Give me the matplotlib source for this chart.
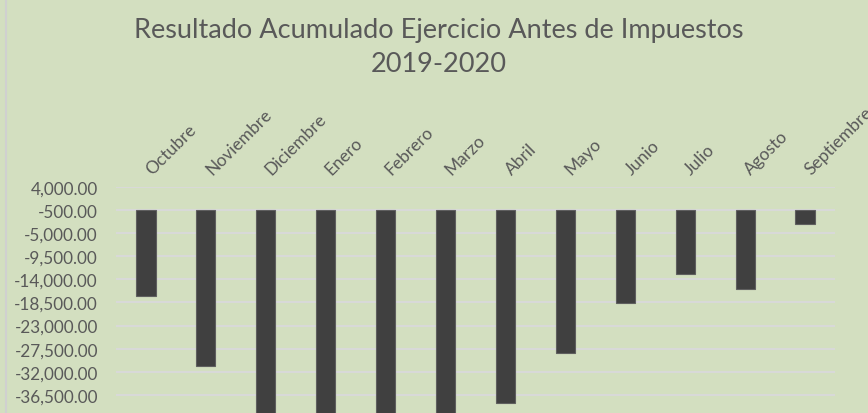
import numpy as np
import matplotlib
matplotlib.use("Agg")
import matplotlib.pyplot as plt
from matplotlib.lines import Line2D
from matplotlib.transforms import ScaledTranslation

# datos
meses = ['Octubre', 'Noviembre', 'Diciembre', 'Enero', 'Febrero', 'Marzo',
         'Abril', 'Mayo', 'Junio', 'Julio', 'Agosto', 'Septiembre']
resultado = [-17300, -30900, -44000, -45000, -46000, -45500,
             -38100, -28300, -18700, -12900, -15900, -3200]
base = -500          # el eje horizontal cruza en -500
y_min, y_max, paso = -45500, 4000, 4500

fondo = '#D3DFC0'
gris_txt = '#595959'
plt.rcParams['font.family'] = ['Lato', 'DejaVu Sans']

fig = plt.figure(figsize=(8.68, 4.14), dpi=100, facecolor=fondo)
ax = fig.add_axes([116 / 868, 1 - 442 / 414, (835 - 116) / 868, (442 - 188) / 414])
ax.set_facecolor(fondo)

x = np.arange(len(meses))
alturas = [v - base for v in resultado]
ax.bar(x, alturas, bottom=base, width=0.32, color='#404040',
       edgecolor='#5f5f5f', linewidth=0.8, zorder=3)

ax.set_xlim(-0.5, len(meses) - 0.5)
ax.set_ylim(y_min, y_max)
ax.set_yticks(np.arange(y_min, y_max + 1, paso))
ax.set_yticklabels(['{:,.2f}'.format(v) for v in np.arange(y_min, y_max + 1, paso)])
ax.grid(axis='y', color='#D9D9D9', linewidth=1.4, zorder=0)

ax.xaxis.tick_top()
ax.set_xticks(x)
ax.set_xticklabels(meses, rotation=45, ha='left', va='baseline',
                   rotation_mode='anchor')
ax.tick_params(axis='x', length=0, pad=9, labelsize=12.5, labelcolor=gris_txt)
ax.tick_params(axis='y', length=0, pad=13, labelsize=12.3, labelcolor=gris_txt)
# pequeño corrimiento a la derecha de las etiquetas de meses
desplazar = ScaledTranslation(6 / 100, 0, fig.dpi_scale_trans)
for lbl in ax.get_xticklabels():
    lbl.set_transform(lbl.get_transform() + desplazar)
for s in ax.spines.values():
    s.set_visible(False)

fig.text(439 / 868, 1 - 18 / 414, 'Resultado Acumulado Ejercicio Antes de Impuestos\n2019-2020',
         ha='center', va='top', fontsize=19.5, color=gris_txt, linespacing=1.45)

# borde del area del grafico
fig.add_artist(Line2D([6 / 868, 6 / 868], [0, 1], transform=fig.transFigure,
                      color='#D0D0D0', linewidth=1.5))

fig.savefig('out.png', dpi=100, facecolor=fondo)
